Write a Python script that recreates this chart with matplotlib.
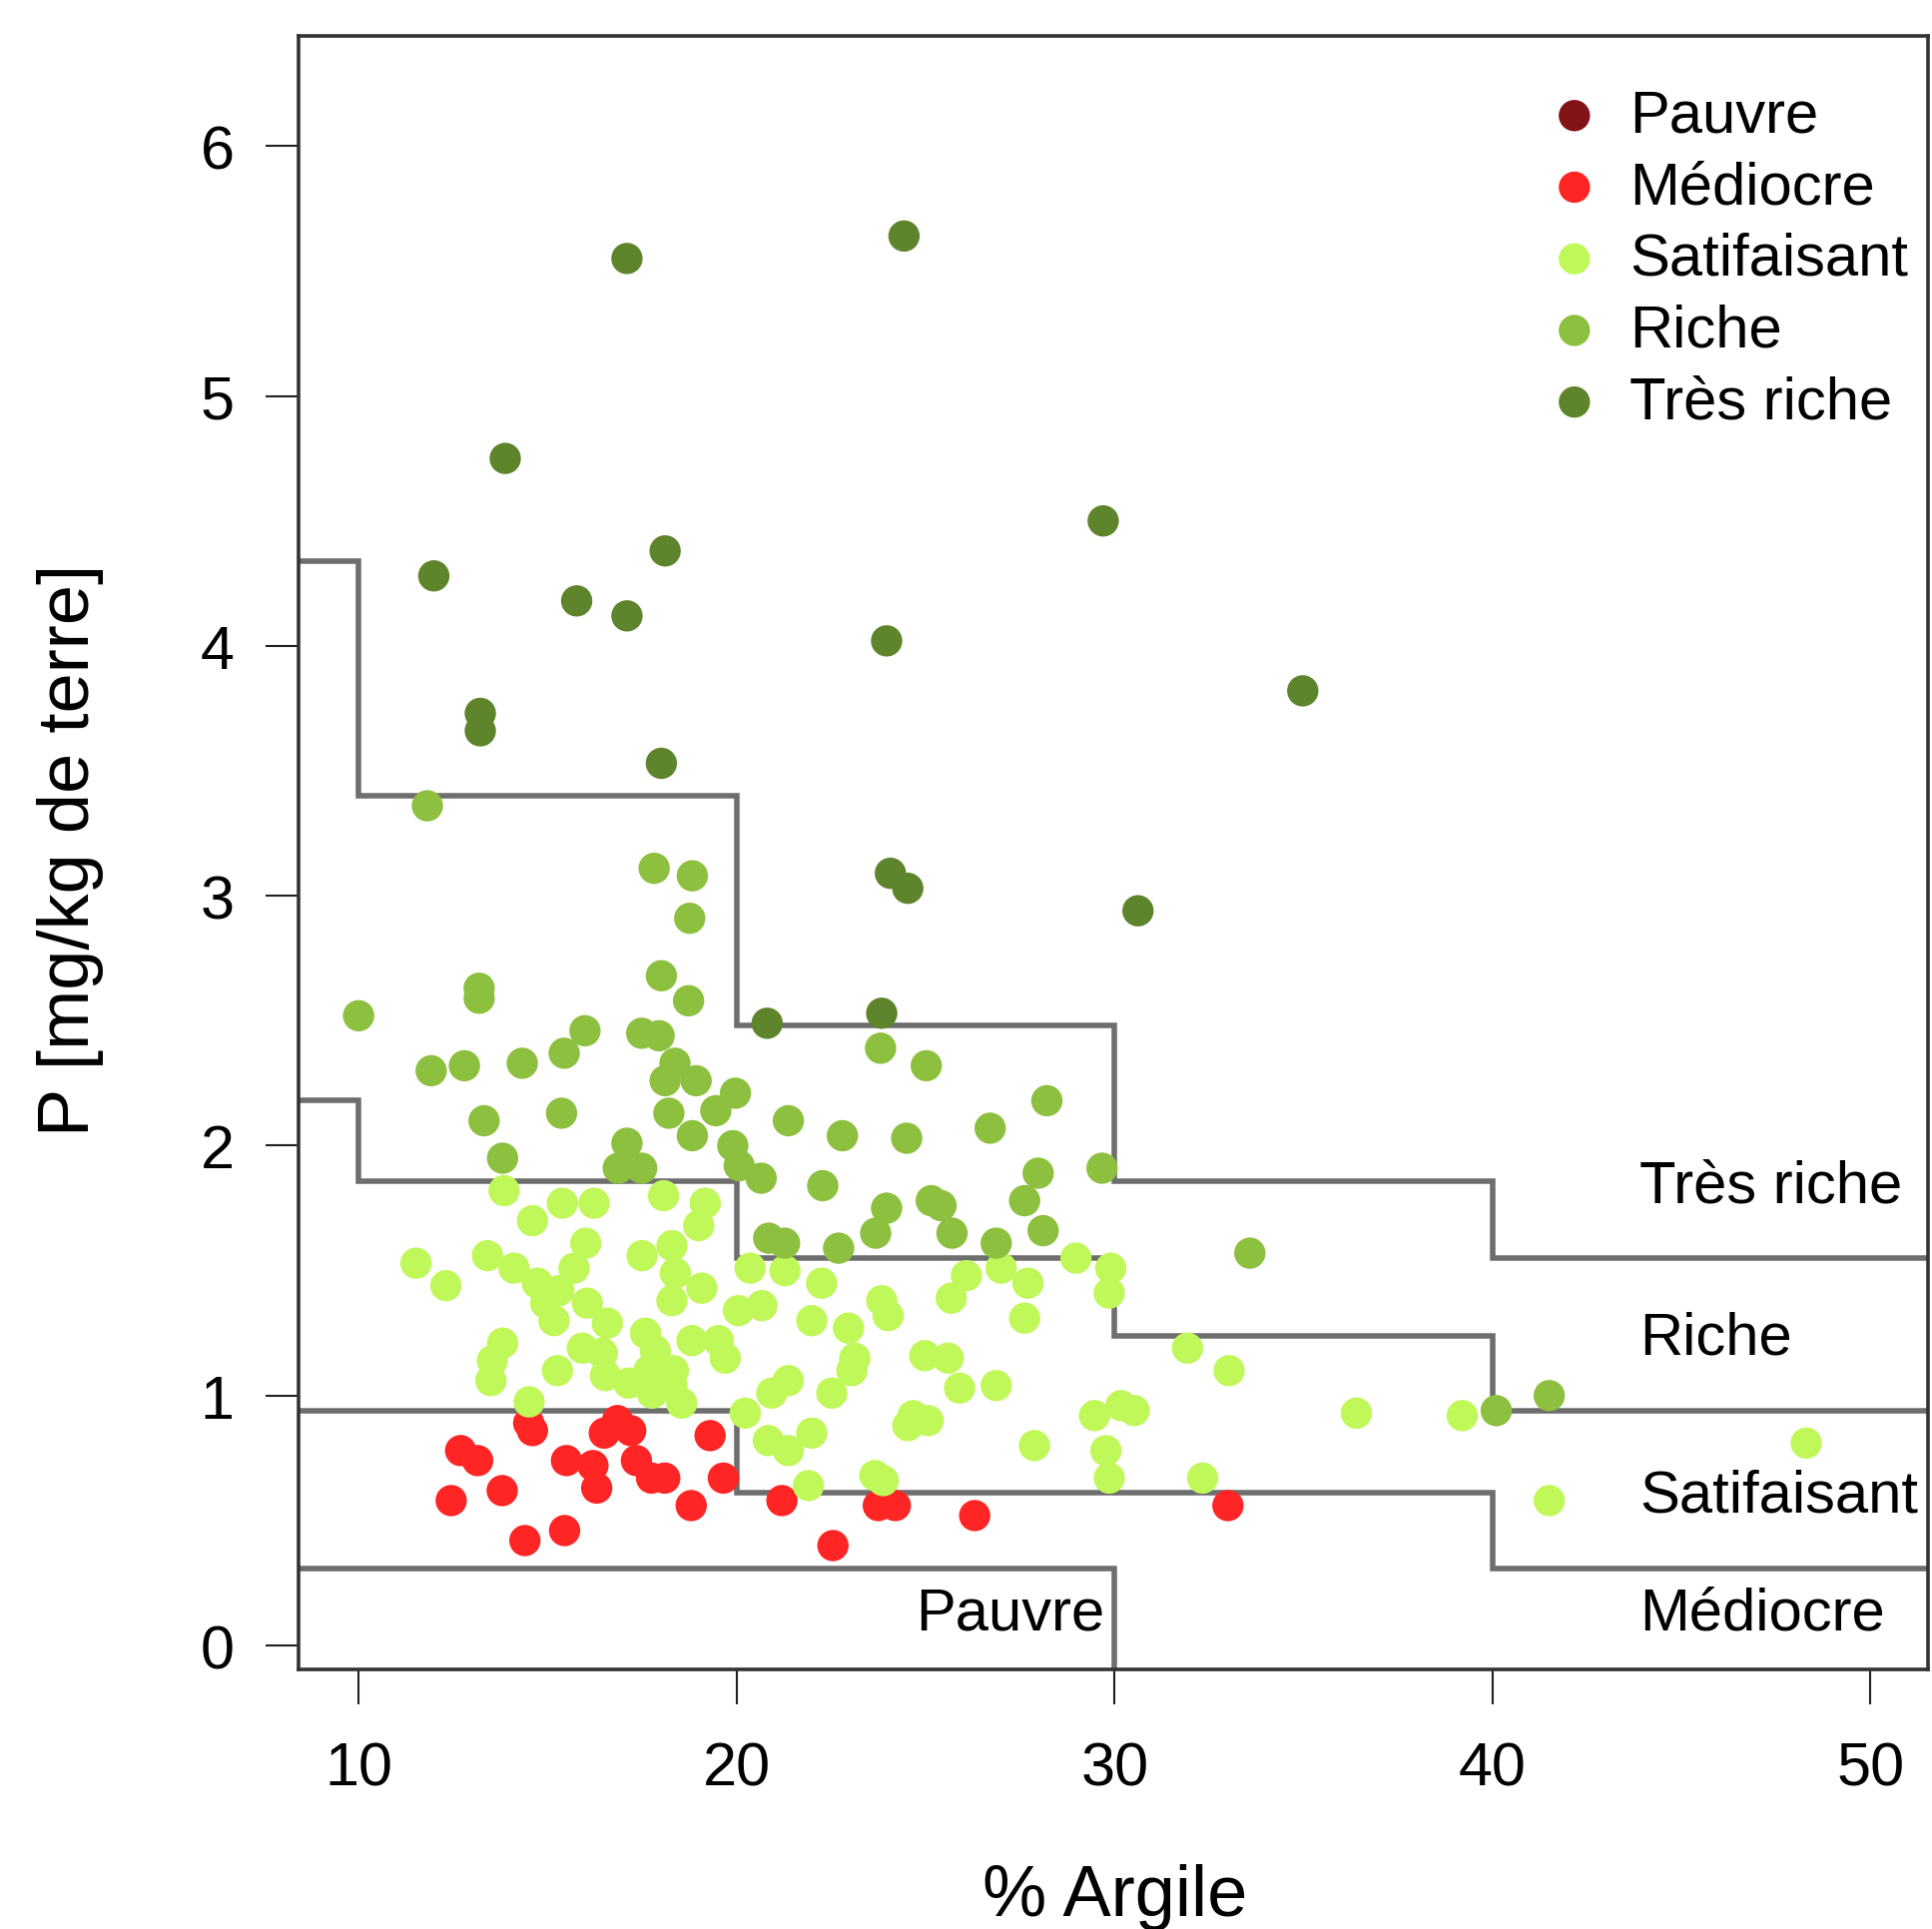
import matplotlib
matplotlib.use('Agg')
import matplotlib.pyplot as plt

plt.rcParams['font.family'] = ['Liberation Sans', 'DejaVu Sans']

# clay class limits (% Argile) and P thresholds for each class: <10, 10-20, 20-30, 30-40, >40
clay_breaks = [10, 20, 30, 40]
limit_pauvre = [0.31, 0.31, 0.31, -0.5, -0.5]
limit_mediocre = [0.94, 0.94, 0.61, 0.61, 0.31]
limit_satisfaisant = [2.18, 1.86, 1.55, 1.24, 0.94]
limit_riche = [4.34, 3.40, 2.48, 1.86, 1.55]

classes = ['Pauvre', 'Médiocre', 'Satifaisant', 'Riche', 'Très riche']
colors = ['#821418', '#FF2525', '#C0F85A', '#8CC03E', '#5E842C']

# samples per fertility class (x = % argile, y = P mg/kg)
pauvre_x = []
pauvre_y = []

mediocre_x = [14.5, 14.6, 12.7, 13.15, 13.8, 12.45, 14.4, 15.45, 15.5, 16.2, 16.3, 16.5, 16.85,
              17.2, 17.35, 17.75, 18.1, 18.8, 19.3, 19.65, 21.2, 22.55, 23.75, 24.2, 26.3, 33.0]
mediocre_y = [0.89, 0.86, 0.78, 0.74, 0.62, 0.58, 0.42, 0.46, 0.74, 0.72, 0.63, 0.85, 0.90,
              0.86, 0.74, 0.67, 0.67, 0.56, 0.84, 0.67, 0.58, 0.40, 0.56, 0.56, 0.52, 0.56]

satisf_x = [13.85, 15.39, 16.23, 14.60, 18.07, 19.17, 19.00,
            11.52, 12.31, 13.41, 14.11, 16.01, 15.70, 14.73, 15.30, 14.95, 15.17, 16.05, 16.58,
            17.50, 18.29, 18.38, 19.08, 18.29,
            13.81, 13.54, 13.50,
            15.26, 15.92, 16.45, 16.53, 17.15, 17.59, 17.85, 17.68, 17.77, 18.29, 18.55, 18.33,
            18.82, 19.52, 19.70,
            20.05, 20.67, 20.36, 21.28, 22.25, 21.99,
            21.37, 20.93, 22.52, 20.23, 20.84, 21.37, 21.99, 21.90, 14.51,
            28.98, 29.90, 29.86, 27.00, 26.08, 25.68, 27.71, 27.62, 23.84, 24.01, 22.96, 23.13,
            23.05, 24.98, 25.60, 25.90, 26.87, 24.67, 25.07, 24.53, 27.88, 29.47, 30.17, 30.52,
            29.77, 29.86, 32.33, 31.93, 33.03, 23.66, 23.88,
            36.4, 39.2, 48.3, 41.5]
satisf_y = [1.82, 1.77, 1.77, 1.70, 1.80, 1.77, 1.68,
            1.53, 1.44, 1.56, 1.51, 1.61, 1.51, 1.45, 1.42, 1.37, 1.30, 1.37, 1.29,
            1.56, 1.60, 1.49, 1.43, 1.38,
            1.21, 1.14, 1.06,
            1.10, 1.19, 1.17, 1.08, 1.05, 1.25, 1.18, 1.10, 1.01, 1.04, 0.97, 1.10,
            1.22, 1.22, 1.15,
            1.34, 1.36, 1.51, 1.50, 1.45, 1.30,
            1.06, 1.01, 1.01, 0.93, 0.82, 0.78, 0.85, 0.64, 0.975,
            1.55, 1.51, 1.41, 1.51, 1.48, 1.39, 1.45, 1.31, 1.38, 1.32, 1.27, 1.15,
            1.10, 1.16, 1.15, 1.03, 1.04, 0.92, 0.90, 0.88, 0.80, 0.92, 0.96, 0.94,
            0.78, 0.67, 0.67, 1.19, 1.10, 0.68, 0.66,
            0.93, 0.92, 0.81, 0.58]

riche_x = [11.82, 17.82, 18.83, 18.76, 18.01, 10.0, 13.19, 13.19, 18.73, 15.99, 17.49, 17.95,
           15.44, 11.92, 12.80, 14.33, 18.37, 18.11, 18.93, 19.97, 19.45, 19.90, 20.07, 18.21,
           13.32, 15.37, 13.81, 17.10, 16.87, 17.49, 18.83, 20.65, 20.85, 21.27, 22.28, 23.81,
           25.02, 28.21, 21.37, 22.80, 24.50, 26.71, 27.98, 29.67, 23.97, 25.15, 25.41, 27.62,
           23.68, 25.70, 28.11, 22.70, 26.87, 33.58, 41.50, 40.10]
riche_y = [3.36, 3.11, 3.08, 2.91, 2.68, 2.52, 2.63, 2.59, 2.58, 2.46, 2.45, 2.44,
           2.37, 2.30, 2.32, 2.33, 2.33, 2.26, 2.26, 2.21, 2.14, 2.00, 1.92, 2.13,
           2.10, 2.13, 1.95, 2.01, 1.91, 1.91, 2.04, 1.87, 1.63, 1.61, 1.84, 2.39,
           2.32, 2.18, 2.10, 2.04, 2.03, 2.07, 1.89, 1.91, 1.75, 1.78, 1.76, 1.78,
           1.65, 1.65, 1.66, 1.59, 1.61, 1.57, 1.00, 0.94]

tres_riche_x = [17.1, 24.43, 13.88, 11.99, 18.11, 15.77, 17.1, 29.7, 23.97, 34.98,
                13.22, 13.22, 18.01, 24.07, 24.53, 30.62, 20.81, 23.84]
tres_riche_y = [5.55, 5.64, 4.75, 4.28, 4.38, 4.18, 4.12, 4.50, 4.02, 3.82,
                3.73, 3.66, 3.53, 3.09, 3.03, 2.94, 2.49, 2.53]

fig = plt.figure(figsize=(19.35, 19.33), dpi=100)
ax = fig.add_axes([0.1543, 0.1347, 0.8438, 0.8461])

# class boundaries as step lines
edges = [0] + clay_breaks + [60]
for lim in [limit_pauvre, limit_mediocre, limit_satisfaisant, limit_riche]:
    ax.stairs(lim, edges, baseline=None, color='#6e6e6e', linewidth=4.0, zorder=1)

point_sets = [(pauvre_x, pauvre_y), (mediocre_x, mediocre_y), (satisf_x, satisf_y),
              (riche_x, riche_y), (tres_riche_x, tres_riche_y)]
for (xs, ys), name, col in zip(point_sets, classes, colors):
    ax.scatter(xs, ys, s=510, color=col, edgecolors='none', label=name, zorder=3)

# region labels
ax.text(43.9, 1.84, 'Très riche', fontsize=43, va='center', ha='left')
ax.text(43.9, 1.23, 'Riche', fontsize=43, va='center', ha='left')
ax.text(43.9, 0.60, 'Satifaisant', fontsize=43, va='center', ha='left')
ax.text(43.9, 0.13, 'Médiocre', fontsize=43, va='center', ha='left')
ax.text(29.74, 0.13, 'Pauvre', fontsize=43, va='center', ha='right')

ax.set_xlim(8.4, 51.53)
ax.set_ylim(-0.094, 6.44)
ax.set_xticks([10, 20, 30, 40, 50])
ax.set_yticks([0, 1, 2, 3, 4, 5, 6])
ax.tick_params(axis='x', length=25, width=1.5, pad=27, labelsize=44, color='#222222')
ax.tick_params(axis='y', length=24, width=1.5, pad=22, labelsize=44, color='#222222')
for sp in ax.spines.values():
    sp.set_linewidth(2.6)
    sp.set_color('#333333')

ax.set_xlabel('% Argile', fontsize=52)
ax.set_ylabel('P [mg/kg de terre]', fontsize=52)
ax.xaxis.set_label_coords(0.501, -0.119)
ax.yaxis.set_label_coords(-0.119, 0.502)

ax.legend(loc='upper left', bbox_to_anchor=(0.7646, 0.968), frameon=False, fontsize=43,
          handlelength=1.0, handletextpad=0.43, labelspacing=0.28, borderpad=0,
          borderaxespad=0, markerscale=1)

fig.savefig('out.png', dpi=100)
